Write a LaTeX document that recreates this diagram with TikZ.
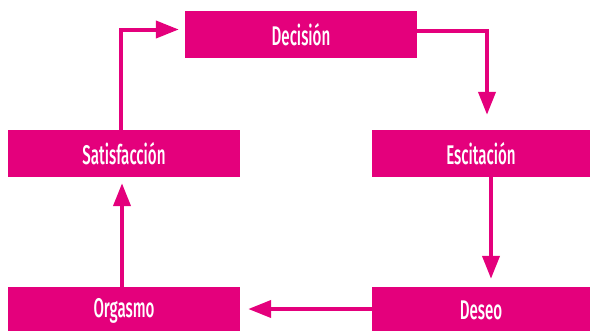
\documentclass[tikz,border=0pt]{standalone}
\usepackage{fontspec}
\setmainfont[FakeStretch=0.56, UprightFont={* Medium}]{Fira Sans}
\usetikzlibrary{arrows.meta}
\definecolor{mag}{HTML}{E4007C}
\tikzset{
  box/.style={fill=mag, text=white, inner sep=0pt, minimum height=47pt, font=\fontsize{27}{30}\selectfont},
  arr/.style={draw=mag, line width=4pt, -{Triangle[length=23pt,width=17pt]}},
}
\begin{document}
\begin{tikzpicture}[x=1pt,y=-1pt]
\useasboundingbox (0,0) rectangle (592,330);
\node[box, minimum width=232pt] (dec) at (301,34.5) {Decisión};
\node[box, minimum width=232pt] (sat) at (124,153.5) {Satisfacción};
\node[box, minimum width=218pt] (esc) at (481,153.5) {Escitación};
\node[box, minimum width=232pt] (org) at (124,310.5) {Orgasmo};
\node[box, minimum width=218pt] (des) at (481,310.5) {Deseo};
\draw[arr, shorten >=6pt] ([xshift=-3pt]sat.north) |- ([yshift=5pt]dec.west);
\draw[arr, shorten >=15pt] ([yshift=4pt]dec.east) -| ([xshift=6pt]esc.north);
\draw[arr, shorten >=8pt] ([xshift=10pt]esc.south) -- ([xshift=10pt]des.north);
\draw[arr, shorten >=8pt] ([yshift=1.5pt]des.west) -- ([yshift=1.5pt]org.east);
\draw[arr, shorten >=6pt] ([xshift=-2pt]org.north) -- ([xshift=-2pt]sat.south);
\end{tikzpicture}
\end{document}
